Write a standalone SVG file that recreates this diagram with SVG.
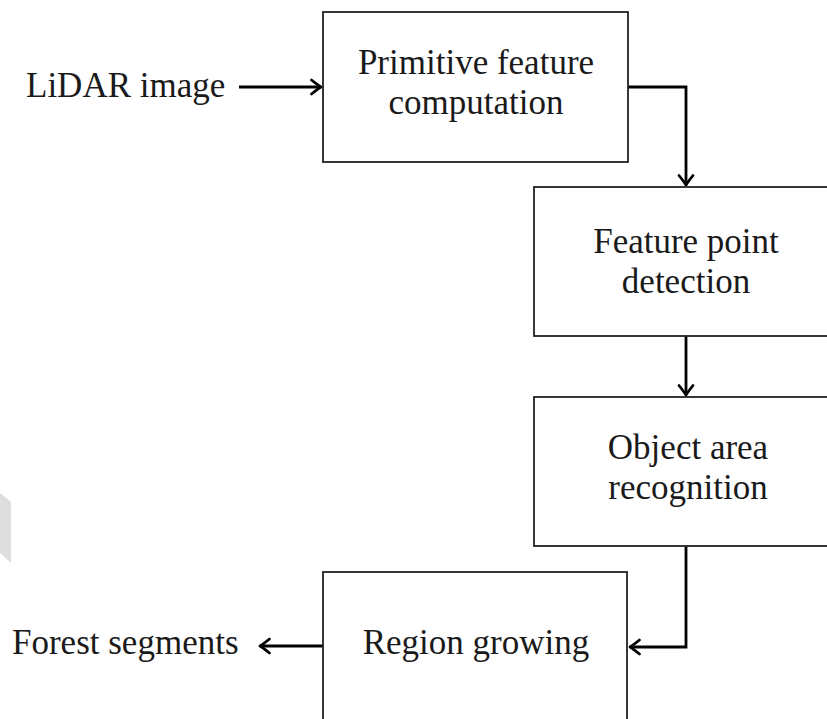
<svg xmlns="http://www.w3.org/2000/svg" width="827" height="719" viewBox="0 0 827 719">
  <style>
    .box { fill: #ffffff; stroke: #222222; stroke-width: 1.8; }
    .lbl { font-family: "Liberation Serif", "Times New Roman", serif; font-size: 35px; fill: #1a1a1a; text-anchor: middle; }
    .ext { font-family: "Liberation Serif", "Times New Roman", serif; font-size: 35px; fill: #1a1a1a; }
    .conn { fill: none; stroke: #000000; stroke-width: 2.8; marker-end: url(#tip); }
  </style>
  <defs>
    <marker id="tip" markerUnits="userSpaceOnUse" viewBox="-12 -9 14 18" refX="0" refY="0" markerWidth="14" markerHeight="18" orient="auto">
      <path d="M-9.5,-7 Q-3,-1.8 0,0 Q-3,1.8 -9.5,7" fill="none" stroke="#000" stroke-width="2.8" stroke-linecap="round" stroke-linejoin="round"/>
    </marker>
  </defs>
  <rect width="827" height="719" fill="#ffffff"/>
  <polygon points="0,493 11,502 11,563 0,553" fill="#dedede"/>

  <g id="connectors">
    <path class="conn" d="M239,87 H321"/>
    <path class="conn" d="M628,87 H686 V185"/>
    <path class="conn" d="M686,336 V395"/>
    <path class="conn" d="M686,546 V647 H630"/>
    <path class="conn" d="M323,646 H260"/>
  </g>

  <g id="lidar">
    <text class="ext" x="26" y="97">LiDAR image</text>
  </g>
  <g id="primitive">
    <rect class="box" x="323" y="12" width="305" height="150"/>
    <text class="lbl" x="476" y="74">Primitive feature</text>
    <text class="lbl" x="476" y="114">computation</text>
  </g>
  <g id="featurepoint">
    <rect class="box" x="534" y="187" width="305" height="149"/>
    <text class="lbl" x="686" y="253">Feature point</text>
    <text class="lbl" x="686" y="293">detection</text>
  </g>
  <g id="objectarea">
    <rect class="box" x="534" y="397" width="305" height="149"/>
    <text class="lbl" x="688" y="459">Object area</text>
    <text class="lbl" x="688" y="499">recognition</text>
  </g>
  <g id="region">
    <rect class="box" x="323" y="572" width="304" height="152"/>
    <text class="lbl" x="476" y="654">Region growing</text>
  </g>
  <g id="forest">
    <text class="ext" x="12" y="654">Forest segments</text>
  </g>
</svg>
